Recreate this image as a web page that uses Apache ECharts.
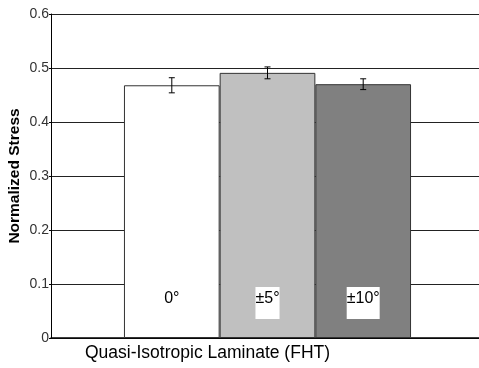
<!DOCTYPE html>
<html><head><meta charset="utf-8">
<script src="https://cdn.jsdelivr.net/npm/echarts@6/dist/echarts.min.js"></script>
<style>html,body{margin:0;padding:0;background:#fff}#c{width:479px;height:368px}</style>
</head><body><div id="c"></div>
<script>
var categories = ['Quasi-Isotropic Laminate (FHT)'];
var seriesNames = ['0°', '±5°', '±10°'];
var values = [0.468, 0.491, 0.470];
var errors = [0.014, 0.011, 0.010];
var colors = ['#ffffff', '#c0c0c0', '#808080'];
var yTicks = [0, 0.1, 0.2, 0.3, 0.4, 0.5, 0.6];

var gapRatio = 0.337;
var chart = echarts.init(document.getElementById('c'));
var series = seriesNames.map(function (n, i) {
  return {
    name: n, type: 'bar', data: [values[i]], barGap: 0, barCategoryGap: (gapRatio * 100) + '%',
    itemStyle: { color: colors[i], borderColor: '#333', borderWidth: 1 },
    label: {
      show: true, position: 'insideBottom', distance: 19, formatter: n,
      color: '#000', fontSize: 16, fontFamily: 'Liberation Sans', lineHeight: 16,
      backgroundColor: '#fff', padding: [4, 0, 12, 0]
    },
    z: 2
  };
});
series.push({
  type: 'custom', z: 5,
  data: seriesNames.map(function (n, i) { return [i, values[i], errors[i]]; }),
  renderItem: function (params, api) {
    var i = api.value(0), v = api.value(1), e = api.value(2);
    var band = api.size([1, 0])[0];
    var bw = band * (1 - gapRatio) / 3;
    var c = api.coord([0, v]);
    var x = c[0] + (i - 1) * bw;
    var yHi = api.coord([0, v + e])[1], yLo = api.coord([0, v - e])[1];
    var st = { stroke: '#000', lineWidth: 1 };
    return { type: 'group', children: [
      { type: 'line', shape: { x1: x, y1: yHi, x2: x, y2: yLo }, style: st },
      { type: 'line', shape: { x1: x - 3, y1: yHi, x2: x + 3, y2: yHi }, style: st },
      { type: 'line', shape: { x1: x - 3, y1: yLo, x2: x + 3, y2: yLo }, style: st }
    ]};
  }
});
chart.setOption({
  animation: false,
  grid: { left: 51, right: -5, top: 14, bottom: 30, containLabel: false, outerBoundsMode: 'none' },
  xAxis: {
    type: 'category', data: categories,
    axisLine: { lineStyle: { color: '#000', width: 1.5 } },
    axisTick: { show: false }, axisLabel: { show: false },
    name: categories[0], nameLocation: 'middle', nameGap: 6,
    nameTextStyle: { fontSize: 17.5, color: '#000', fontFamily: 'Liberation Sans', padding: [0, 120, 0, 0], verticalAlign: 'top' }
  },
  yAxis: {
    type: 'value', min: 0, max: 0.6, interval: 0.1,
    axisLine: { show: true, lineStyle: { color: '#000' } },
    axisTick: { show: true, length: 2, lineStyle: { color: '#000' } },
    axisLabel: { color: '#333', fontSize: 14, fontFamily: 'Liberation Sans', margin: 2,
      formatter: function (v) { var t = yTicks.filter(function (y) { return Math.abs(y - v) < 1e-9; }); return t.length ? String(t[0]) : ''; } },
    splitLine: { show: true, lineStyle: { color: '#222', width: 1 } },
    name: 'Normalized Stress', nameLocation: 'middle', nameGap: 28, nameMoveOverlap: false,
    nameTextStyle: { fontSize: 15.5, fontWeight: 'bold', color: '#000', fontFamily: 'Liberation Sans' }
  },
  series: series
});
</script></body></html>
